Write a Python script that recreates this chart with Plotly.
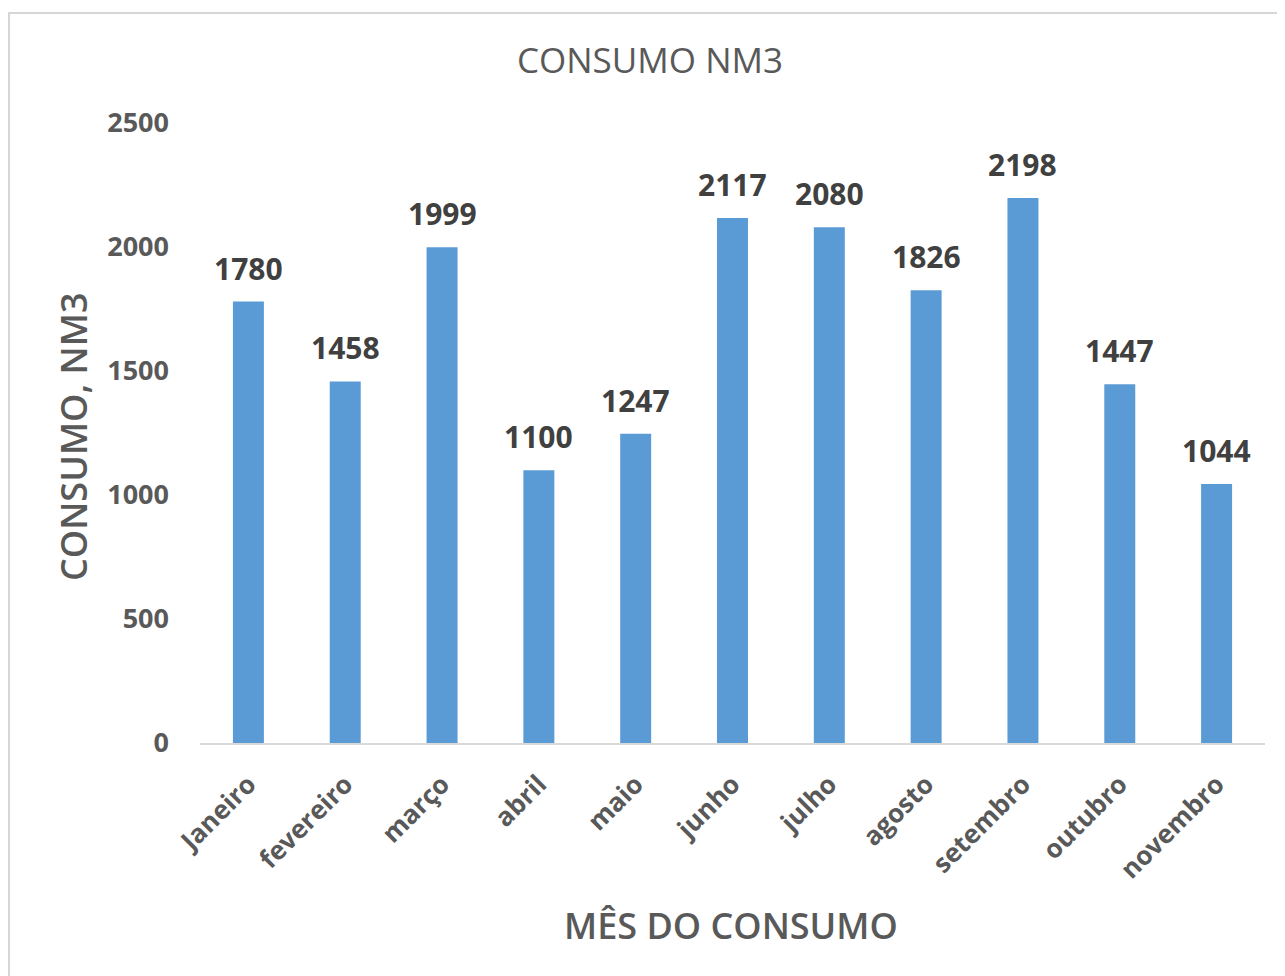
import plotly.graph_objects as go

meses = ["Janeiro", "fevereiro", "março", "abril", "maio", "junho",
         "julho", "agosto", "setembro", "outubro", "novembro"]
consumo = [1780, 1458, 1999, 1100, 1247, 2117, 2080, 1826, 2198, 1447, 1044]
y_ticks = [0, 500, 1000, 1500, 2000, 2500]

FONT = "Open Sans"
OFF = 8  # page body margin
W, H = 1285 - OFF, 976 - OFF
# plot area in reference pixels: x 200..1265, y 123..743
L = 200 - OFF
R = W - (1265 - OFF)
T = 123 - OFF
B = H - (743 - OFF)
pw, ph = W - L - R, H - T - B


def px_x(x):
    return (x - OFF - L) / pw


def px_y(y):
    return (H - B - (y - OFF)) / ph


fig = go.Figure()
fig.add_trace(go.Bar(
    x=meses, y=consumo,
    marker=dict(color="#5B9BD5", line=dict(width=0)),
    hoverinfo="x+y",
))

annotations = []
for m, v in zip(meses, consumo):
    annotations.append(dict(
        x=m, y=v, xref="x", yref="y", text=f"<b>{v}</b>", showarrow=False,
        yanchor="bottom", yshift=11,
        font=dict(family=FONT, size=30, color="#404040"),
    ))

annotations.append(dict(
    text="CONSUMO, NM3", xref="paper", yref="paper",
    x=px_x(73), y=px_y(437), xanchor="center", yanchor="middle",
    textangle=-90, showarrow=False,
    font=dict(family=FONT, size=36, color="#595959", weight=600),
))
annotations.append(dict(
    text="MÊS DO CONSUMO", xref="paper", yref="paper",
    x=px_x(731), y=px_y(925), xanchor="center", yanchor="middle",
    showarrow=False,
    font=dict(family=FONT, size=36, color="#595959", weight=600),
))

fig.update_layout(
    width=W, height=H,
    margin=dict(l=L, r=R, t=T, b=B, pad=0),
    paper_bgcolor="white", plot_bgcolor="white",
    bargap=0.68,
    showlegend=False,
    title=dict(
        text="CONSUMO NM3", x=(650 - OFF) / W, xref="container", xanchor="center",
        y=1 - (61 - OFF) / H, yref="container", yanchor="middle",
        font=dict(family=FONT, size=35, color="#595959"),
    ),
    xaxis=dict(
        showgrid=False, zeroline=False,
        showline=True, linecolor="#D9D9D9", linewidth=1.5,
        ticks="", tickangle=-45, ticklabelstandoff=14,
        tickfont=dict(family=FONT, size=26, color="#595959", weight="bold"),
    ),
    yaxis=dict(
        range=[0, 2500], tickvals=y_ticks,
        showgrid=False, zeroline=False, showline=False,
        ticks="", ticklabelstandoff=30,
        tickfont=dict(family=FONT, size=27, color="#595959", weight="bold"),
    ),
    annotations=annotations,
    shapes=[dict(
        type="rect", xref="paper", yref="paper",
        x0=px_x(9), x1=px_x(1300), y0=px_y(990), y1=px_y(13),
        line=dict(color="#D6D6D6", width=2), fillcolor="rgba(0,0,0,0)",
        layer="below",
    )],
)

fig.write_html("out.html")
